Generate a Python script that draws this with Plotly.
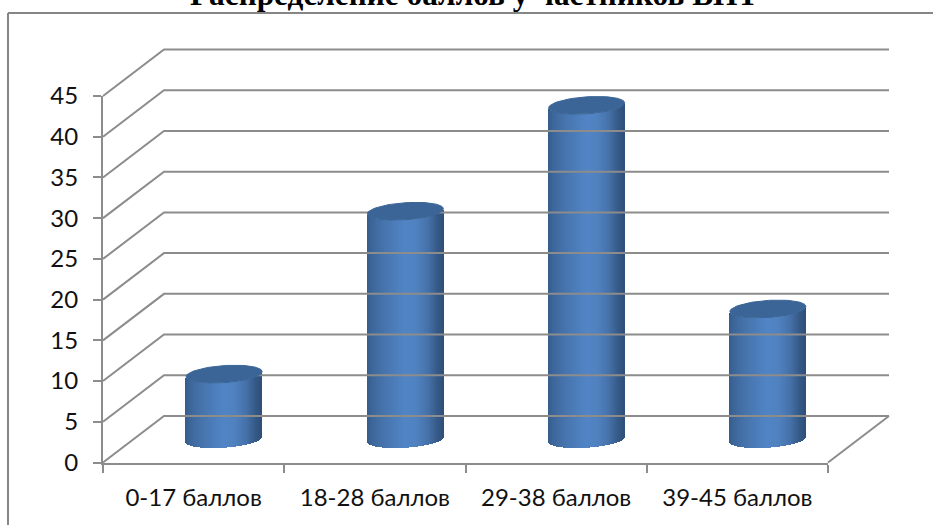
import numpy as np
import plotly.graph_objects as go

categories = ["0-17 баллов", "18-28 баллов", "29-38 баллов", "39-45 баллов"]
values = [8, 28, 41, 16]
y_ticks = [0, 5, 10, 15, 20, 25, 30, 35, 40, 45]
title_text = "Распределение баллов у частников ВНТ"

W, H = 933, 525
L, R, T, B = 103, 828, 96, 462.5
PX_X = (R - L) / 4
PX_Y = (B - T) / 45
DX = 61 / PX_X
DY = 46.5 / PX_Y
GRID = "#8c8c8c"
FONT = "Lato, Noto Sans, sans-serif"
TXT = "#111111"

stops_u = [-1.0, -0.85, -0.5, 0.0, 0.3, 0.6, 0.85, 1.0]
stops_rgb = [(54, 92, 140), (62, 104, 156), (72, 118, 176), (82, 133, 198), (80, 130, 192), (70, 114, 170), (54, 90, 136), (46, 80, 122)]


def shade(u):
    return "rgb(%d,%d,%d)" % tuple(np.interp(u, stops_u, [c[i] for c in stops_rgb]) for i in range(3))


AX = dict(xaxis="x2", yaxis="y2")
fig = go.Figure()

# main axes carry the ticks and labels
fig.add_trace(go.Scatter(x=[0, 1, 2, 3], y=values, mode="markers", marker=dict(opacity=0), hoverinfo="skip", showlegend=False))

# 3-D walls: one polyline per y tick, plus the right edge of the floor
for v in y_ticks:
    fig.add_trace(go.Scatter(x=[-0.5, -0.5 + DX, 3.5 + DX], y=[v, v + DY, v + DY], mode="lines",
                             line=dict(color=GRID, width=2), hoverinfo="skip", showlegend=False, **AX))
fig.add_trace(go.Scatter(x=[3.5, 3.5 + DX], y=[0, DY], mode="lines", line=dict(color=GRID, width=2),
                         hoverinfo="skip", showlegend=False, **AX))

# Cylinders
half_w = 38 / PX_X
n = 76
us = (np.arange(n) + 0.5) / n * 2 - 1
b = 8.5 / PX_Y
tilt = 2.5 / PX_Y
for i, (name, val) in enumerate(zip(categories, values)):
    cx = i + DX / 2
    fig.add_trace(go.Bar(
        x=cx + us * half_w,
        y=[val] * n,
        base=DY / 2 + tilt * us - b * np.sqrt(1 - us ** 2),
        width=half_w * 2 / n * 1.4,
        marker=dict(color=[shade(u) for u in us], line=dict(width=0)),
        name=name, showlegend=False, hoverinfo="skip", **AX))
    t = np.linspace(0, 2 * np.pi, 90)
    fig.add_trace(go.Scatter(
        x=cx + half_w * np.cos(t),
        y=DY / 2 + val + tilt * np.cos(t) + b * np.sin(t),
        mode="lines", fill="toself", fillcolor="#3b6597", line=dict(color="#3b6597", width=1),
        hoverinfo="skip", showlegend=False, **AX))

px = lambda x: x / W
py = lambda y: 1 - y / H
border = dict(type="line", xref="paper", yref="paper", line=dict(color="#868686", width=2))
fig.update_layout(
    width=W, height=H, barmode="overlay", bargap=0,
    paper_bgcolor="white", plot_bgcolor="rgba(0,0,0,0)",
    margin=dict(l=0, r=0, t=0, b=0, autoexpand=False),
    showlegend=False,
    font=dict(family=FONT, size=24, color=TXT),
    xaxis=dict(domain=[px(L), px(R)], range=[-0.5, 3.5], tickvals=[0, 1, 2, 3], ticktext=categories, ticks="", showgrid=False, zeroline=False,
               showline=True, linecolor=GRID, linewidth=2, ticklabelstandoff=13,
               tickfont=dict(family=FONT, size=24, color=TXT),
               minor=dict(tickvals=[-0.5, 0.5, 1.5, 2.5, 3.5], ticks="outside", ticklen=8, tickwidth=2, tickcolor=GRID, showgrid=False)),
    yaxis=dict(domain=[py(B), py(T)], range=[0, 45], tickvals=y_ticks, ticks="outside", ticklen=8, tickwidth=2, tickcolor=GRID, showgrid=False, zeroline=False,
               showline=True, linecolor=GRID, linewidth=2, ticklabelstandoff=10,
               tickfont=dict(family=FONT, size=24, color=TXT)),
    xaxis2=dict(domain=[0, 1], anchor="y2", visible=False, range=[-0.5 - L / PX_X, 3.5 + (W - R) / PX_X]),
    yaxis2=dict(domain=[0, 1], anchor="x2", visible=False, range=[-(H - B) / PX_Y, B / PX_Y]),
    shapes=[
        dict(border, x0=px(8), x1=px(8), y0=py(13), y1=py(525)),
        dict(border, x0=px(8), x1=px(933), y0=py(13), y1=py(13)),
    ],
    annotations=[dict(text="<b>" + title_text + "</b>", xref="paper", yref="paper", x=px(474), y=py(14), xanchor="center",
                      yanchor="bottom", showarrow=False, font=dict(family="Liberation Serif, serif", size=31.3, color="black"))],
)
fig.write_html("out.html", config=dict(displayModeBar=False), post_script="document.body.style.margin='0';")
